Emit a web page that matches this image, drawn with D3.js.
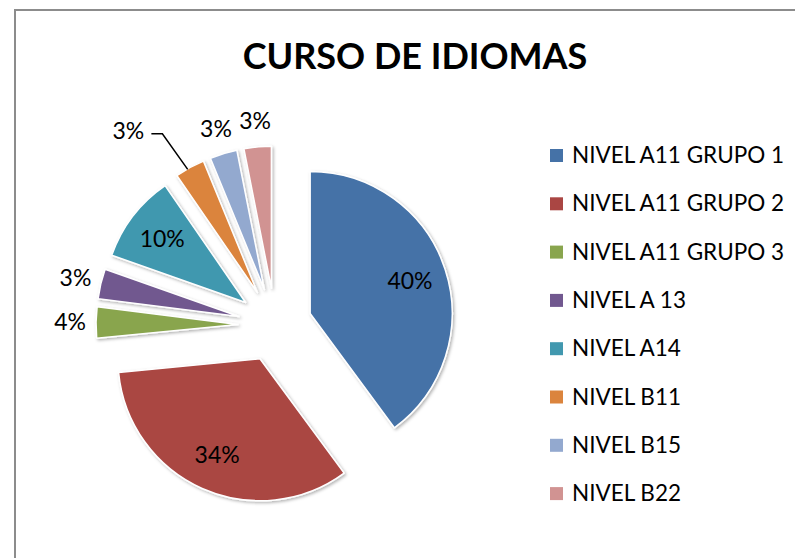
<!DOCTYPE html>
<html>
<head>
<meta charset="utf-8">
<script src="https://cdn.jsdelivr.net/npm/d3@7"></script>
<style>
  html, body { margin: 0; padding: 0; background: #fff; }
  svg { display: block; font-family: Lato, "Noto Sans", sans-serif; }
</style>
</head>
<body>
<script>
// ** Data (shares in %)
const categories = [
  "NIVEL A11 GRUPO 1",
  "NIVEL A11 GRUPO 2",
  "NIVEL A11 GRUPO 3",
  "NIVEL A 13",
  "NIVEL A14",
  "NIVEL B11",
  "NIVEL B15",
  "NIVEL B22"
];
const values = [39.9, 33.55, 3.55, 3.4, 10, 3.4, 3.1, 3.1];
const colors = ["#4572A7", "#AA4643", "#89A54E", "#71588F", "#4198AF", "#DB843D", "#93A9CF", "#D19392"];
const insideLabel = [true, true, false, false, true, false, false, false];
const title = "CURSO DE IDIOMAS";

// ** Layout
const width = 795, height = 558;
const cx = 275, cy = 325;
const radius = 142;
const explode = 37;

const svg = d3.select("body").append("svg")
  .attr("width", width)
  .attr("height", height);

// frame (chart area border, runs off the right and bottom edge)
svg.append("path")
  .attr("d", `M15,${height + 2} V10 H${width + 2}`)
  .attr("fill", "none")
  .attr("stroke", "#8c8c8c")
  .attr("stroke-width", 2);

const defs = svg.append("defs");
defs.append("filter").attr("id", "shadow")
  .attr("x", "-20%").attr("y", "-20%").attr("width", "140%").attr("height", "140%")
  .append("feDropShadow")
  .attr("dx", 1.5).attr("dy", 1.5).attr("stdDeviation", 1.5)
  .attr("flood-color", "#000").attr("flood-opacity", 0.3);

svg.append("text")
  .attr("x", 415)
  .attr("y", 69)
  .attr("text-anchor", "middle")
  .attr("font-weight", "bold")
  .attr("font-size", 36)
  .attr("fill", "#000")
  .text(title);

// ** Pie
const pie = d3.pie().sort(null).value(d => d)(values);
const arc = d3.arc().innerRadius(0).outerRadius(radius);
const mid = d => (d.startAngle + d.endAngle) / 2;
const offset = (d, r) => [Math.sin(mid(d)) * r, -Math.cos(mid(d)) * r];

const g = svg.append("g").attr("transform", `translate(${cx},${cy})`);

g.selectAll("path.slice")
  .data(pie)
  .join("path")
  .attr("class", "slice")
  .attr("d", arc)
  .attr("transform", d => `translate(${offset(d, explode)})`)
  .attr("fill", (d, i) => colors[i])
  .attr("stroke", "#fff")
  .attr("stroke-width", 1.5)
  .attr("stroke-linejoin", "round")
  .attr("filter", "url(#shadow)");

// labels: inside ones sit on the slice, outside ones beyond the rim
const labelPos = (d, i) => {
  if (insideLabel[i]) {
    const [ox, oy] = offset(d, explode);
    const [lx, ly] = offset(d, radius * 0.74);
    return [ox + lx, oy + ly];
  }
  return offset(d, 205);
};
// B11 label collides with B15, Excel pushed it left with a leader line
const nudged = 5;
const nudge = [-49, -14];

const fmt = d3.format(".0%");
const total = d3.sum(values);

g.selectAll("text.lbl")
  .data(pie)
  .join("text")
  .attr("class", "lbl")
  .attr("transform", (d, i) => {
    let [x, y] = labelPos(d, i);
    if (i === nudged) { x += nudge[0]; y += nudge[1]; }
    return `translate(${x},${y})`;
  })
  .attr("text-anchor", "middle")
  .attr("dy", "0.36em")
  .attr("font-size", 23)
  .attr("fill", "#000")
  .text(d => fmt(d.value / total));

// leader line for the nudged label
{
  const d = pie[nudged];
  const [lx, ly] = labelPos(d, nudged);
  const x0 = lx + nudge[0] + 23, y0 = ly + nudge[1] + 3;
  const [ex, ey] = offset(d, radius + explode - 2);
  g.append("path")
    .attr("d", `M${x0},${y0} H${x0 + 11} L${ex - 3},${ey}`)
    .attr("fill", "none")
    .attr("stroke", "#000")
    .attr("stroke-width", 1.5);
}

// ** Legend
const legend = svg.append("g").attr("transform", "translate(550,155)");
const rowH = 48.3;
const item = legend.selectAll("g")
  .data(categories)
  .join("g")
  .attr("transform", (d, i) => `translate(0,${i * rowH})`);
item.append("rect")
  .attr("x", 0).attr("y", -6)
  .attr("width", 13).attr("height", 13)
  .attr("fill", (d, i) => colors[i]);
item.append("text")
  .attr("x", 22)
  .attr("dy", "0.36em")
  .attr("font-size", 22.5)
  .attr("fill", "#000")
  .text(d => d);
</script>
</body>
</html>
